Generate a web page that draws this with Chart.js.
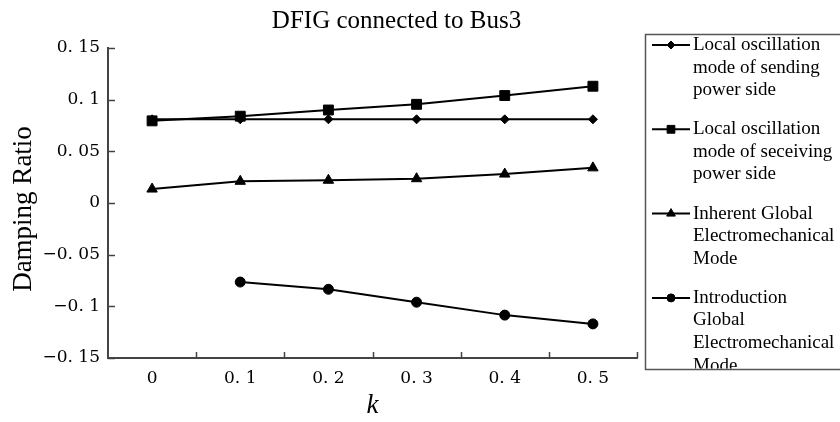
<!DOCTYPE html>
<html>
<head>
<meta charset="utf-8">
<script src="https://cdn.jsdelivr.net/npm/chart.js@4/dist/chart.umd.min.js"></script>
<style>
  html, body { margin: 0; padding: 0; background: #fff; }
  #wrap { width: 840px; height: 422px; position: relative; }
</style>
</head>
<body>
<div id="wrap"><canvas id="c" width="840" height="422"></canvas></div>
<script>
// ---- data ----
const kLabels = ['0', '0. 1', '0. 2', '0. 3', '0. 4', '0. 5'];
const yTickLabels = ['\u22120. 15', '\u22120. 1', '\u22120. 05', '0', '0. 05', '0. 1', '0. 15'];
const sendingSide   = [0.081, 0.081, 0.081, 0.081, 0.081, 0.081];
const receivingSide = [0.0795, 0.084, 0.090, 0.0955, 0.104, 0.113];
const inheritGlobal = [0.0135, 0.021, 0.022, 0.0235, 0.028, 0.034];
const introGlobal   = [null, -0.0765, -0.0835, -0.096, -0.1085, -0.117];
const legendLines = [
  ['Local oscillation', 'mode of sending', 'power side'],
  ['Local oscillation', 'mode of seceiving', 'power side'],
  ['Inherent Global', 'Electromechanical', 'Mode'],
  ['Introduction', 'Global', 'Electromechanical', 'Mode']
];
const chartTitle = 'DFIG connected to Bus3';
const yTitle = 'Damping Ratio';
const xTitle = 'k';

const SERIF = "'Liberation Serif', 'Times New Roman', serif";
const TICKFONT = "'DejaVu Serif', 'Liberation Serif', serif";
const markers = [
  { style: 'rectRot',  radius: 4.5, legendRadius: 4 },
  { style: 'rect',     radius: 7,   legendRadius: 5.5 },
  { style: 'triangle', radius: 6,   legendRadius: 5 },
  { style: 'circle',   radius: 5,   legendRadius: 4 }
];
const seriesData = [sendingSide, receivingSide, inheritGlobal, introGlobal];

const datasets = seriesData.map((d, i) => ({
  label: legendLines[i].join(' '),
  data: d,
  borderColor: '#000',
  backgroundColor: '#000',
  borderWidth: 2,
  pointStyle: markers[i].style,
  pointRadius: markers[i].radius,
  pointBorderWidth: 1,
  pointBackgroundColor: '#000',
  pointBorderColor: '#000',
  tension: 0,
  spanGaps: false
}));

function drawMarker(ctx, style, x, y, r) {
  ctx.beginPath();
  if (style === 'rectRot') {
    ctx.moveTo(x - r, y); ctx.lineTo(x, y - r); ctx.lineTo(x + r, y); ctx.lineTo(x, y + r);
    ctx.closePath();
  } else if (style === 'rect') {
    const s = r * Math.SQRT1_2;
    ctx.rect(x - s, y - s, 2 * s, 2 * s);
  } else if (style === 'triangle') {
    const a = 2 * Math.PI / 3;
    ctx.moveTo(x, y - r);
    ctx.lineTo(x + Math.sin(a) * r, y - Math.cos(a) * r);
    ctx.lineTo(x + Math.sin(2 * a) * r, y - Math.cos(2 * a) * r);
    ctx.closePath();
  } else {
    ctx.arc(x, y, r, 0, Math.PI * 2);
  }
  ctx.fill();
  ctx.stroke();
}

const decorPlugin = {
  id: 'decor',
  afterDraw(chart) {
    const ctx = chart.ctx;
    const xs = chart.scales.x, ys = chart.scales.y;
    const area = chart.chartArea;
    ctx.save();
    // inward tick marks
    ctx.strokeStyle = '#444';
    ctx.lineWidth = 1.5;
    ctx.beginPath();
    for (let i = 0; i < kLabels.length; i++) {
      const px = Math.round(xs.getPixelForValue(i + 0.5)) + 0.5;
      ctx.moveTo(px, area.bottom);
      ctx.lineTo(px, area.bottom - 6);
    }
    ys.ticks.forEach(t => {
      const py = Math.round(ys.getPixelForValue(t.value)) + 0.5;
      ctx.moveTo(area.left, py);
      ctx.lineTo(area.left + 7, py);
    });
    ctx.stroke();

    // title
    ctx.fillStyle = '#000';
    ctx.font = '25px ' + SERIF;
    ctx.textAlign = 'center';
    ctx.textBaseline = 'alphabetic';
    ctx.fillText(chartTitle, (area.left + area.right) / 2 + 24, 28);

    // y axis title
    ctx.save();
    ctx.translate(24, (area.top + area.bottom) / 2 + 6);
    ctx.rotate(-Math.PI / 2);
    ctx.font = '27px ' + SERIF;
    ctx.textAlign = 'center';
    ctx.textBaseline = 'middle';
    ctx.fillText(yTitle, 0, 0);
    ctx.restore();

    // legend
    const bx = 645.5, by = 34.5, bw = 220, bh = 335;
    ctx.strokeStyle = '#555';
    ctx.lineWidth = 1.5;
    ctx.strokeRect(bx, by, bw, bh);
    ctx.save();
    ctx.beginPath();
    ctx.rect(bx + 1, by + 1, bw - 2, bh - 2);
    ctx.clip();
    ctx.font = '19px ' + SERIF;
    ctx.textAlign = 'left';
    ctx.textBaseline = 'middle';
    const lineH = 22.6, gap = 16.5;
    let y = 45;
    legendLines.forEach((lines, i) => {
      ctx.strokeStyle = '#000';
      ctx.fillStyle = '#000';
      ctx.lineWidth = 2;
      ctx.beginPath();
      ctx.moveTo(652, y); ctx.lineTo(690, y);
      ctx.stroke();
      ctx.lineWidth = 1;
      drawMarker(ctx, markers[i].style, 671, y, markers[i].legendRadius);
      lines.forEach((t, j) => {
        ctx.fillText(t, 693, y + j * lineH);
      });
      y += lines.length * lineH + gap;
    });
    ctx.restore();
    ctx.restore();
  }
};

new Chart(document.getElementById('c'), {
  type: 'line',
  data: { labels: kLabels, datasets },
  options: {
    responsive: false,
    animation: false,
    events: [],
    layout: { padding: { top: 48, right: 203, left: 0, bottom: 0 } },
    plugins: { legend: { display: false }, title: { display: false }, tooltip: { enabled: false } },
    scales: {
      x: {
        type: 'category',
        offset: true,
        grid: { display: false, drawTicks: false },
        border: { display: true, color: '#444', width: 2 },
        ticks: { color: '#000', font: { family: TICKFONT, size: 17 }, padding: 10, maxRotation: 0, autoSkip: false },
        title: { display: true, text: xTitle, color: '#000', font: { family: SERIF, size: 27, style: 'italic' }, padding: { top: 0, bottom: 0 } },
        afterFit(s) { s.height = 64; }
      },
      y: {
        min: -0.15, max: 0.15,
        grid: { display: false, drawTicks: false },
        border: { display: true, color: '#444', width: 2 },
        ticks: {
          stepSize: 0.05,
          color: '#000',
          font: { family: TICKFONT, size: 17 },
          padding: 8,
          callback: (v, i) => yTickLabels[i]
        },
        title: { display: false },
        afterFit(s) { s.width = 108; }
      }
    }
  },
  plugins: [decorPlugin]
});
</script>
</body>
</html>
